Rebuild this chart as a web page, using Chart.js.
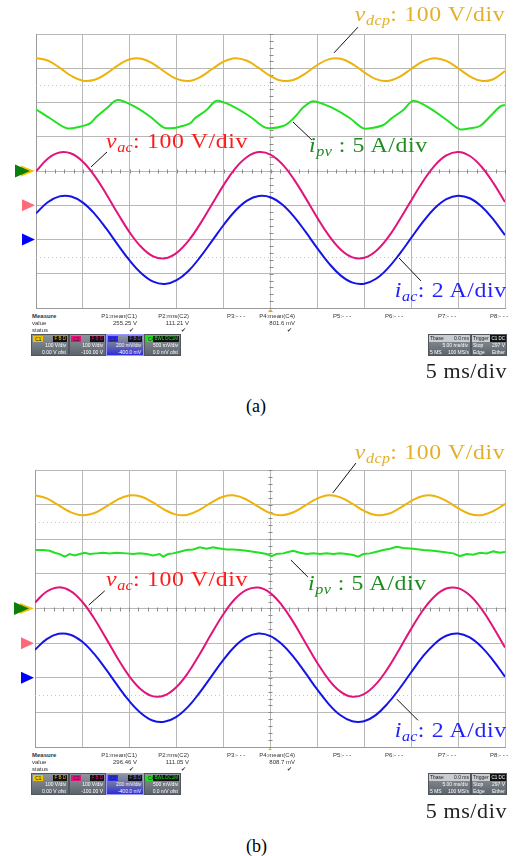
<!DOCTYPE html>
<html>
<head>
<meta charset="utf-8">
<title>Scope waveforms</title>
<script src="https://cdn.jsdelivr.net/npm/chart.js@4.4.1/dist/chart.umd.min.js"></script>
<style>
    body { margin: 0; background: #fff; width: 518px; height: 856px; position: relative; overflow: hidden; }
    canvas { position: absolute; left: 0; }
    .lab { position: absolute; font-family: "Liberation Serif", serif; font-size: 22px; line-height: 22px; letter-spacing: 0.6px; white-space: nowrap; transform: scaleX(1.08); }
    .lab.l { transform-origin: left center; }
    .lab.r { transform-origin: right center; }
    .lab.plain { transform: none; }
    .lab sub { font-size: 0.68em; vertical-align: -0.3em; line-height: 0; letter-spacing: 0.3px; }
    .cap { position: absolute; font-family: "Liberation Serif", serif; font-size: 18px; line-height: 18px; white-space: nowrap; }
    .mt { position: absolute; font-family: "Liberation Sans", Arial, sans-serif; font-size: 6px; line-height: 7px; color: #333; white-space: nowrap; }
    .mt.r { text-align: right; }
    .cbox { position: absolute; height: 22px; box-sizing: border-box; background: linear-gradient(#8e959c, #5c636b); border: 1px solid #50565c; font-family: "Liberation Sans", Arial, sans-serif; font-size: 5px; line-height: 7px; color: #fff; white-space: nowrap; overflow: hidden; }
    .cbox .tag { position: absolute; left: 1px; top: 1px; height: 6px; line-height: 6px; padding: 0 2px; color: #222; }
    .cbox .flags { position: absolute; right: 1px; top: 1px; height: 6px; line-height: 6px; padding: 0 1px; background: #111; font-size: 4.5px; }
    .cbox .r2 { position: absolute; right: 2px; top: 7px; }
    .cbox .r3 { position: absolute; right: 2px; top: 14px; }
    .cbox .l2 { position: absolute; left: 1px; top: 7px; }
    .cbox .l3 { position: absolute; left: 1px; top: 14px; }
    .cbox .head { position: absolute; left: 0; right: 0; top: 0; height: 7px; background: #c9cdd2; color: #222; }
</style>
</head>
<body>

<canvas id="scopeA" width="518" height="312" style="top:0px"></canvas>
<canvas id="scopeB" width="518" height="314" style="top:436px"></canvas>

<!-- panel (a) labels -->
<div class="lab r" style="color:#e2b02a; right:13px; top:3px"><i>v</i><sub><i>dcp</i></sub>: 100 V/div</div>
<div class="lab l" style="color:#ff1a1a; left:106px; top:130px"><i>v</i><sub><i>ac</i></sub>: 100 V/div</div>
<div class="lab l" style="color:#1f8c1f; left:309px; top:134px"><i>i</i><sub><i>pv</i></sub> : 5 A/div</div>
<div class="lab r" style="color:#1f1fff; right:11px; top:279px"><i>i</i><sub><i>ac</i></sub>: 2 A/div</div>
<div class="lab plain" style="color:#222; right:11px; top:360px">5 ms/div</div>
<div class="cap" style="left:246px; top:397px">(a)</div>

<!-- panel (b) labels -->
<div class="lab r" style="color:#e2b02a; right:13px; top:441px"><i>v</i><sub><i>dcp</i></sub>: 100 V/div</div>
<div class="lab l" style="color:#ff1a1a; left:106px; top:568px"><i>v</i><sub><i>ac</i></sub>: 100 V/div</div>
<div class="lab l" style="color:#1f8c1f; left:308px; top:572px"><i>i</i><sub><i>pv</i></sub> : 5 A/div</div>
<div class="lab r" style="color:#1f1fff; right:11px; top:719px"><i>i</i><sub><i>ac</i></sub>: 2 A/div</div>
<div class="lab plain" style="color:#222; right:11px; top:800px">5 ms/div</div>
<div class="cap" style="left:246px; top:837px">(b)</div>

<script>
// time base: 10 div x 5 ms, vertical: 8 div (values below are in divisions)
const timeMs = [0, 1.25, 2.5, 3.75, 5, 6.25, 7.5, 8.75, 10, 11.25, 12.5, 13.75, 15, 16.25, 17.5, 18.75, 20,
    21.25, 22.5, 23.75, 25, 26.25, 27.5, 28.75, 30, 31.25, 32.5, 33.75, 35, 36.25, 37.5, 38.75, 40,
    41.25, 42.5, 43.75, 45, 46.25, 47.5, 48.75, 50];
const xTicks = [0, 5, 10, 15, 20, 25, 30, 35, 40, 45, 50];
const yTicks = [-4, -3, -2, -1, 0, 1, 2, 3, 4];

// (a) waveforms
const vdcpA = [3.294, 3.226, 3.019, 2.781, 2.637, 2.662, 2.844, 3.086, 3.263, 3.280, 3.131, 2.891, 2.688, 2.627,
    2.741, 2.970, 3.194, 3.294, 3.220, 3.009, 2.773, 2.634, 2.666, 2.853, 3.095, 3.267, 3.277, 3.122, 2.882,
    2.682, 2.629, 2.749, 2.979, 3.200, 3.295, 3.214, 3.000, 2.765, 2.632, 2.680, 2.920];
const vacA = [-0.013, 0.358, 0.541, 0.510, 0.272, -0.143, -0.677, -1.255, -1.798, -2.228, -2.494, -2.549, -2.390,
    -2.040, -1.544, -0.977, -0.412, 0.079, 0.410, 0.552, 0.479, 0.200, -0.243, -0.792, -1.369, -1.896, -2.298,
    -2.523, -2.535, -2.336, -1.953, -1.432, -0.862, -0.306, 0.159, 0.456, 0.555, 0.438, 0.124, -0.347, -0.907];
const iacA = [-1.237, -0.912, -0.741, -0.744, -0.922, -1.251, -1.685, -2.164, -2.620, -2.993, -3.232, -3.299, -3.186,
    -2.918, -2.516, -2.049, -1.577, -1.160, -0.863, -0.728, -0.766, -0.978, -1.331, -1.780, -2.259, -2.705, -3.054,
    -3.259, -3.291, -3.147, -2.843, -2.425, -1.953, -1.486, -1.090, -0.823, -0.720, -0.796, -1.039, -1.415, -1.875];
const ipvTimeA = [0, 1.49, 3.27, 4.69, 5.76, 6.47, 7.53, 8.67, 10.38, 12.15, 13.57, 14.29, 15.35, 16.42, 16.95,
    18.19, 19.26, 21.04, 22.81, 24.23, 24.95, 26.37, 27.08, 27.79, 28.5, 29.57, 31.7, 33.48, 34.9, 35.96, 37.03,
    37.92, 39.16, 40.23, 42.0, 43.78, 45.2, 46.27, 47.33, 48.4, 49.47, 50];
const ipvA = [1.80, 1.54, 1.246, 1.294, 1.39, 1.59, 1.83, 2.07, 1.90, 1.59, 1.275, 1.246, 1.294, 1.39, 1.54,
    1.78, 2.05, 1.88, 1.59, 1.294, 1.246, 1.314, 1.44, 1.635, 1.86, 2.04, 1.83, 1.54, 1.246, 1.265, 1.343,
    1.54, 1.78, 2.05, 1.83, 1.49, 1.217, 1.246, 1.314, 1.59, 1.88, 1.93];

// (b) waveforms
const vdcpB = [3.269, 3.180, 2.984, 2.786, 2.691, 2.751, 2.932, 3.140, 3.262, 3.233, 3.070, 2.858, 2.711, 2.708,
    2.850, 3.061, 3.229, 3.264, 3.147, 2.941, 2.756, 2.691, 2.779, 2.976, 3.174, 3.269, 3.209, 3.028, 2.820,
    2.698, 2.727, 2.890, 3.102, 3.248, 3.251, 3.110, 2.899, 2.731, 2.696, 2.813, 3.019];
const vacB = [0.169, 0.492, 0.610, 0.509, 0.202, -0.267, -0.834, -1.420, -1.945, -2.330, -2.531, -2.514, -2.281,
    -1.869, -1.327, -0.738, -0.180, 0.266, 0.537, 0.605, 0.452, 0.100, -0.401, -0.980, -1.558, -2.055, -2.400,
    -2.547, -2.474, -2.193, -1.743, -1.183, -0.596, -0.057, 0.348, 0.577, 0.588, 0.382, -0.011, -0.539, -1.125];
const iacB = [-1.190, -0.883, -0.732, -0.757, -0.954, -1.297, -1.739, -2.215, -2.663, -3.016, -3.233, -3.274, -3.139,
    -2.847, -2.437, -1.966, -1.500, -1.099, -0.830, -0.721, -0.790, -1.027, -1.398, -1.854, -2.330, -2.760, -3.085,
    -3.257, -3.256, -3.079, -2.749, -2.325, -1.849, -1.392, -1.022, -0.788, -0.721, -0.834, -1.108, -1.505, -1.972];
const ipvTimeB = [0, 0.85, 1.56, 2.10, 2.63, 3.16, 3.69, 4.23, 4.76, 5.29, 5.82, 6.53, 7.24, 7.95, 8.66, 9.73,
    10.44, 11.15, 11.86, 12.56, 13.27, 13.63, 14.16, 14.69, 15.40, 16.11, 16.82, 17.53, 18.24, 18.95, 19.66,
    20.37, 21.08, 21.79, 22.50, 23.21, 23.92, 24.63, 25.16, 25.69, 26.40, 26.94, 27.47, 28.18, 28.89, 29.60,
    30.31, 31.02, 31.73, 32.44, 33.15, 33.85, 34.39, 34.92, 35.63, 36.34, 37.05, 37.76, 38.47, 39.18, 40.24,
    41.31, 42.37, 43.43, 44.50, 45.21, 45.92, 46.63, 47.34, 48.05, 48.76, 49.47, 50];
const ipvB = [1.688, 1.688, 1.669, 1.611, 1.572, 1.495, 1.572, 1.534, 1.572, 1.611, 1.572, 1.592, 1.611, 1.592,
    1.611, 1.592, 1.572, 1.592, 1.572, 1.534, 1.572, 1.495, 1.572, 1.592, 1.640, 1.688, 1.707, 1.765, 1.726,
    1.765, 1.736, 1.707, 1.707, 1.688, 1.669, 1.640, 1.611, 1.572, 1.514, 1.572, 1.592, 1.630, 1.669, 1.611,
    1.572, 1.592, 1.572, 1.592, 1.572, 1.592, 1.572, 1.543, 1.495, 1.572, 1.592, 1.640, 1.688, 1.726, 1.784,
    1.746, 1.726, 1.688, 1.669, 1.630, 1.592, 1.514, 1.572, 1.553, 1.611, 1.592, 1.649, 1.611, 1.630];

// leader lines from the labels to the traces: [t1, y1, t2, y2] in ms / div
const leadersA = [[34.33, 4.20, 31.77, 3.45], [7.57, 0.555, 5.86, 0.117], [29.42, 0.905, 27.40, 1.43], [41.04, -3.21, 38.70, -2.54]];
const leadersB = [[34.14, 4.20, 31.69, 3.34], [7.42, 0.51, 5.72, 0.10], [29.03, 0.91, 27.22, 1.40], [40.74, -3.23, 38.50, -2.62]];

// channel offset markers (div) at the left edge
const channelMarkers = [
    { y: 0, color: '#f5c400', tip: 1, w: 14, h: 5.5 },
    { y: 0, color: '#0b7d0b', tip: 6, w: 15, h: 6.5 },
    { y: -1, color: '#ff6a78', tip: 1, w: 13, h: 6 },
    { y: -2, color: '#0000ff', tip: 1, w: 13, h: 6 }
];
const dottedLevels = [2.5, -2.5];

const COLORS = {
    vdcp: '#edb20c',
    vac: '#e0147a',
    iac: '#1414e6',
    ipv: '#22e022'
};

document.addEventListener('DOMContentLoaded', function() {
    Chart.register(scopeDecor);
    makeScope('scopeA', vdcpA, vacA, iacA, ipvTimeA, ipvA, leadersA, { left: 36, right: 13, top: 34, bottom: 4 });
    makeScope('scopeB', vdcpB, vacB, iacB, ipvTimeB, ipvB, leadersB, { left: 35, right: 13, top: 34, bottom: 3 });

    makeInfoBar(312, ['255.25 V', '111.21 V', '801.6 mV']);
    makeInfoBar(751, ['296.46 V', '111.05 V', '808.7 mV']);
});

// grid extras, markers and leader lines
const scopeDecor = {
    id: 'scopeDecor',
    beforeDatasetsDraw(chart) {
        const { ctx, chartArea: a, scales: { x, y } } = chart;
        ctx.save();
        // dotted reference levels
        ctx.strokeStyle = '#c4c4c4';
        ctx.lineWidth = 1;
        ctx.setLineDash([1, 3]);
        dottedLevels.forEach(v => {
            const py = Math.round(y.getPixelForValue(v)) + 0.5;
            ctx.beginPath();
            ctx.moveTo(a.left, py);
            ctx.lineTo(a.right, py);
            ctx.stroke();
        });
        ctx.setLineDash([]);
        // minor ticks on the centre axes
        ctx.strokeStyle = '#8a8a8a';
        const cy = Math.round(y.getPixelForValue(0)) + 0.5;
        const cx = Math.round(x.getPixelForValue(25)) + 0.5;
        ctx.beginPath();
        for (let t = 0; t <= 50; t += 1) {
            const px = Math.round(x.getPixelForValue(t)) + 0.5;
            ctx.moveTo(px, cy - 2);
            ctx.lineTo(px, cy + 2);
        }
        for (let v = -4; v <= 4.001; v += 0.2) {
            const py = Math.round(y.getPixelForValue(v)) + 0.5;
            ctx.moveTo(cx - 2, py);
            ctx.lineTo(cx + 2, py);
        }
        ctx.stroke();
        ctx.restore();
    },
    afterDraw(chart, args, opts) {
        const { ctx, chartArea: a, scales: { x, y } } = chart;
        ctx.save();
        // leader lines
        ctx.strokeStyle = '#111';
        ctx.lineWidth = 1;
        (opts.leaders || []).forEach(l => {
            ctx.beginPath();
            ctx.moveTo(x.getPixelForValue(l[0]), y.getPixelForValue(l[1]));
            ctx.lineTo(x.getPixelForValue(l[2]), y.getPixelForValue(l[3]));
            ctx.stroke();
        });
        // channel markers
        channelMarkers.forEach(m => {
            const py = y.getPixelForValue(m.y);
            const tipX = a.left - m.tip;
            ctx.fillStyle = m.color;
            ctx.beginPath();
            ctx.moveTo(tipX, py);
            ctx.lineTo(tipX - m.w, py - m.h);
            ctx.lineTo(tipX - m.w, py + m.h);
            ctx.closePath();
            ctx.fill();
        });
        // trigger position marker
        const tx = x.getPixelForValue(25);
        ctx.fillStyle = '#f0a000';
        ctx.beginPath();
        ctx.moveTo(tx, a.bottom + 1);
        ctx.lineTo(tx - 2.5, a.bottom + 4);
        ctx.lineTo(tx + 2.5, a.bottom + 4);
        ctx.closePath();
        ctx.fill();
        ctx.restore();
    }
};

function trace(times, values, color, tension) {
    return {
        data: times.map((t, i) => ({ x: t, y: values[i] })),
        borderColor: color,
        borderWidth: 2,
        pointRadius: 0,
        fill: false,
        tension: tension
    };
}

function makeScope(id, vdcp, vac, iac, ipvTime, ipv, leaders, padding) {
    const ctx = document.getElementById(id).getContext('2d');
    return new Chart(ctx, {
        type: 'line',
        data: {
            datasets: [
                trace(timeMs, vdcp, COLORS.vdcp, 0.4),
                trace(ipvTime, ipv, COLORS.ipv, id === 'scopeA' ? 0.3 : 0),
                trace(timeMs, vac, COLORS.vac, 0.4),
                trace(timeMs, iac, COLORS.iac, 0.4)
            ]
        },
        options: {
            responsive: false,
            animation: false,
            layout: { padding: padding },
            plugins: {
                legend: { display: false },
                tooltip: { enabled: false },
                scopeDecor: { leaders: leaders }
            },
            scales: {
                x: {
                    type: 'linear',
                    min: 0,
                    max: 50,
                    afterBuildTicks: scale => { scale.ticks = xTicks.map(v => ({ value: v })); },
                    ticks: { display: false },
                    grid: { color: '#b8b8b8', drawTicks: false },
                    border: { color: '#9a9a9a' }
                },
                y: {
                    min: -4,
                    max: 4,
                    afterBuildTicks: scale => { scale.ticks = yTicks.map(v => ({ value: v })); },
                    ticks: { display: false },
                    grid: { color: '#b8b8b8', drawTicks: false },
                    border: { color: '#9a9a9a' }
                }
            }
        }
    });
}

function addText(cls, text, left, top, width) {
    const el = document.createElement('div');
    el.className = cls;
    el.textContent = text;
    el.style.top = top + 'px';
    if (width) {
        el.style.left = (left - width) + 'px';
        el.style.width = width + 'px';
    } else {
        el.style.left = left + 'px';
    }
    document.body.appendChild(el);
    return el;
}

// the measurement strip and channel boxes under each screen
function makeInfoBar(y0, meas) {
    const bold = addText('mt', 'Measure', 32, y0 + 1);
    bold.style.fontWeight = 'bold';
    addText('mt', 'value', 32, y0 + 8);
    addText('mt', 'status', 32, y0 + 15);

    const cols = [
        { name: 'P1:mean(C1)', right: 137, val: meas[0] },
        { name: 'P2:rms(C2)', right: 189, val: meas[1] },
        { name: 'P4:mean(C4)', right: 295, val: meas[2] }
    ];
    cols.forEach(c => {
        addText('mt r', c.name, c.right, y0 + 1, 60);
        addText('mt r', c.val, c.right, y0 + 8, 60);
        addText('mt r', '\u2714', c.right - 3, y0 + 15, 20);
    });
    [['P3:- - -', 227], ['P5:- - -', 333], ['P6:- - -', 385], ['P7:- - -', 438], ['P8:- - -', 490]].forEach(p => {
        addText('mt', p[0], p[1], y0 + 1);
    });

    const boxTop = y0 + 22;
    const boxes = [
        { x: 31, w: 38, tag: 'C1', tagBg: '#f2c200', flags: 'F B D', flagColor: '#f2c200', r2: '100 V/div', r3: '0.00 V ofst' },
        { x: 69, w: 37, tag: 'C2', tagBg: '#e8107a', flags: 'F B D', flagColor: '#e8107a', r2: '100 V/div', r3: '-100.00 V' },
        { x: 106, w: 38, tag: 'C3', tagBg: '#2a2aee', flags: 'F B D', flagColor: '#6a6aff', r2: '200 mV/div', r3: '-400.0 mV', active: true },
        { x: 144, w: 37, tag: 'C4', tagBg: '#22e022', flags: 'BWL DC1M', flagColor: '#22e022', r2: '500 mV/div', r3: '0.0 mV ofst' }
    ];
    boxes.forEach(b => {
        const box = document.createElement('div');
        box.className = 'cbox';
        box.style.left = b.x + 'px';
        box.style.top = boxTop + 'px';
        box.style.width = b.w + 'px';
        if (b.active) {
            box.style.background = 'linear-gradient(#9096a0 0%, #6a70a0 50%, #2c2ce0 100%)';
            box.style.borderColor = '#9a9aff';
        }
        box.innerHTML = `
            <span class="tag" style="background:${b.tagBg}">${b.tag}</span>
            <span class="flags" style="color:${b.flagColor}">${b.flags}</span>
            <span class="r2">${b.r2}</span>
            <span class="r3">${b.r3}</span>
        `;
        document.body.appendChild(box);
    });

    const tbase = document.createElement('div');
    tbase.className = 'cbox';
    tbase.style.left = '428px';
    tbase.style.top = boxTop + 'px';
    tbase.style.width = '43px';
    tbase.innerHTML = `
        <div class="head"><span style="position:absolute;left:1px">Tbase</span><span style="position:absolute;right:1px">0.0 ms</span></div>
        <span class="r2">5.00 ms/div</span>
        <span class="l3">5 MS</span><span class="r3" style="right:1px">100 MS/s</span>
    `;
    document.body.appendChild(tbase);

    const trig = document.createElement('div');
    trig.className = 'cbox';
    trig.style.left = '471px';
    trig.style.top = boxTop + 'px';
    trig.style.width = '36px';
    trig.innerHTML = `
        <div class="head"><span style="position:absolute;left:1px">Trigger</span><span style="position:absolute;right:0;top:0;background:#111;color:#fff;padding:0 1px;line-height:7px;font-size:4.5px">C1 DC</span></div>
        <span class="l2">Stop</span><span class="r2" style="right:1px">297 V</span>
        <span class="l3">Edge</span><span class="r3" style="right:1px">Either</span>
    `;
    document.body.appendChild(trig);
}
</script>
</body>
</html>
